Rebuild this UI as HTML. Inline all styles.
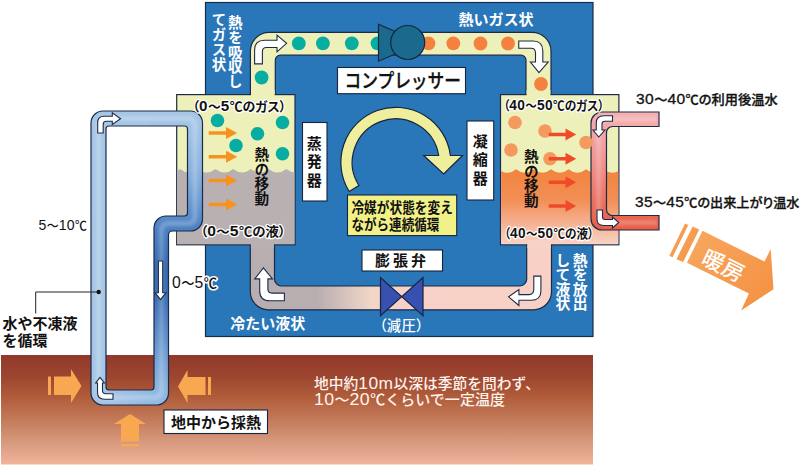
<!DOCTYPE html>
<html lang="ja">
<head>
<meta charset="utf-8">
<title>地中熱ヒートポンプの仕組み</title>
<style>
html,body{margin:0;padding:0;background:#fff;}
body{width:800px;height:465px;overflow:hidden;position:relative;font-family:"Liberation Sans","Noto Sans CJK JP",sans-serif;}
svg{position:absolute;left:0;top:0;display:block;}
text{font-family:"Liberation Sans","Noto Sans CJK JP",sans-serif;}
.w{fill:#fff;}
.k{fill:#111;}
.b{font-weight:700;}
.halo{paint-order:stroke;stroke:#fff;stroke-width:2.5px;stroke-linejoin:round;}
.v{writing-mode:vertical-rl;text-orientation:upright;}
.d{font-size:1.18em;letter-spacing:0.4px;}
.p{font-feature-settings:"palt" 1;}
.sb{stroke:#111;stroke-width:0.3px;}
.sw{stroke:#fff;stroke-width:0.3px;}
</style>
</head>
<body>
<svg width="800" height="465" viewBox="0 0 800 465">
<defs>
  <linearGradient id="gGround" x1="0" y1="0" x2="0" y2="1">
    <stop offset="0" stop-color="#92392a"/>
    <stop offset="0.2" stop-color="#9c4630"/>
    <stop offset="0.38" stop-color="#b05c3a"/>
    <stop offset="0.6" stop-color="#c47c5c"/>
    <stop offset="0.8" stop-color="#d89a7e"/>
    <stop offset="1" stop-color="#f0b49c"/>
  </linearGradient>
  <linearGradient id="gBot" gradientUnits="userSpaceOnUse" x1="251" y1="0" x2="552" y2="0">
    <stop offset="0" stop-color="#b8aeb0"/>
    <stop offset="0.22" stop-color="#b8aeb0"/>
    <stop offset="0.40" stop-color="#f2d6c8"/>
    <stop offset="0.5" stop-color="#f8d2c8"/>
    <stop offset="1" stop-color="#f8d0c6"/>
  </linearGradient>
  <linearGradient id="gCond" gradientUnits="userSpaceOnUse" x1="0" y1="168" x2="0" y2="245">
    <stop offset="0" stop-color="#f2833c"/>
    <stop offset="0.42" stop-color="#f28f56"/>
    <stop offset="0.72" stop-color="#f5b292"/>
    <stop offset="1" stop-color="#f8d4c8"/>
  </linearGradient>
  <linearGradient id="gBlueR" gradientUnits="userSpaceOnUse" x1="0" y1="111" x2="0" y2="405">
    <stop offset="0" stop-color="#a6c6e6"/>
    <stop offset="0.065" stop-color="#a0c2e5"/>
    <stop offset="0.2" stop-color="#8ab2de"/>
    <stop offset="0.3" stop-color="#6c9cd2"/>
    <stop offset="0.4" stop-color="#4c80c2"/>
    <stop offset="0.54" stop-color="#3568ae"/>
    <stop offset="0.64" stop-color="#3c70b4"/>
    <stop offset="0.745" stop-color="#5888c6"/>
    <stop offset="0.85" stop-color="#76a2d5"/>
    <stop offset="0.95" stop-color="#8eb6df"/>
    <stop offset="1" stop-color="#94bae2"/>
  </linearGradient>
  <linearGradient id="gBlueBot" gradientUnits="userSpaceOnUse" x1="106" y1="0" x2="150" y2="0">
    <stop offset="0" stop-color="#a6c6e6"/>
    <stop offset="1" stop-color="#92b9e1"/>
  </linearGradient>
  <linearGradient id="gPink" gradientUnits="userSpaceOnUse" x1="0" y1="112" x2="0" y2="230">
    <stop offset="0" stop-color="#f5b0b2"/>
    <stop offset="0.25" stop-color="#f2a0a0"/>
    <stop offset="0.5" stop-color="#ee8a84"/>
    <stop offset="0.75" stop-color="#ea7060"/>
    <stop offset="1" stop-color="#e85c42"/>
  </linearGradient>
  <linearGradient id="gHeat" x1="0" y1="0" x2="1" y2="1">
    <stop offset="0" stop-color="#f8a860"/>
    <stop offset="1" stop-color="#f39040"/>
  </linearGradient>
  <filter id="soft" x="-20%" y="-20%" width="140%" height="140%"><feGaussianBlur stdDeviation="1.6"/></filter>
</defs>

<!-- ground -->
<rect x="1" y="355" width="592" height="109.5" fill="url(#gGround)"/>

<!-- blue unit box -->
<rect x="205.5" y="2.5" width="387.5" height="334" fill="#2977b9" stroke="#1b2a48" stroke-width="1.2"/>

<!-- top refrigerant pipe -->
<path d="M250.4,96 L250.4,51.3 A19,19 0 0 1 269.4,32.3 L532,32.3 A19,19 0 0 1 551,51.3 L551,96 L526,96 L526,60.2 A5,5 0 0 0 521,55.2 L280.3,55.2 A5,5 0 0 0 275.3,60.2 L275.3,96 Z" fill="#eef0ba" stroke="#1b2a48" stroke-width="1.2"/>

<!-- bottom refrigerant pipe -->
<path d="M250.3,243 L250.3,291.8 A18,18 0 0 0 268.3,309.8 L533.5,309.8 A18,18 0 0 0 551.5,291.8 L551.5,243 L526.7,243 L526.7,279 A7,7 0 0 1 519.7,286 L281.5,286 A7,7 0 0 1 274.5,279 L274.5,243 Z" fill="url(#gBot)" stroke="#1b2a48" stroke-width="1.2"/>

<!-- evaporator box -->
<rect x="176.7" y="94.6" width="118.3" height="150.2" fill="#eef0ba" stroke="#1b2a48" stroke-width="1.2"/>
<clipPath id="evClip"><rect x="177.3" y="95.2" width="117.1" height="149"/></clipPath>
<path id="evLiq" clip-path="url(#evClip)" d="M162.4,168.9 Q171.2,176.0 180.1,168.9 Q188.9,176.0 197.8,168.9 Q206.7,176.0 215.5,168.9 Q224.4,176.0 233.2,168.9 Q242.1,176.0 250.9,168.9 Q259.8,176.0 268.6,168.9 Q277.5,176.0 286.3,168.9 Q295.2,176.0 304.0,168.9 L304.0,244.4 L162.4,244.4 Z" fill="#b9b0b1"/>
<rect x="251" y="90" width="23.7" height="8" fill="#eef0ba"/>
<rect x="250.9" y="240" width="23" height="8" fill="#b9b0b1"/>

<!-- condenser box -->
<rect x="500.5" y="94.6" width="118.4" height="150.2" fill="#eef0ba" stroke="#1b2a48" stroke-width="1.2"/>
<clipPath id="coClip"><rect x="501.1" y="95.2" width="117.2" height="149"/></clipPath>
<path id="coLiq" clip-path="url(#coClip)" d="M498.6,169.3 Q507.4,176.4 516.1,169.3 Q524.9,176.4 533.6,169.3 Q542.4,176.4 551.1,169.3 Q559.9,176.4 568.6,169.3 Q577.4,176.4 586.1,169.3 Q594.9,176.4 603.6,169.3 Q612.4,176.4 621.1,169.3 L621.1,244.4 L498.6,244.4 Z" fill="url(#gCond)"/>
<rect x="526.6" y="90" width="23.8" height="8" fill="#eef0ba"/>
<rect x="527.3" y="240" width="23.6" height="8" fill="#f8d2c6"/>

<!-- dots: teal -->
<g fill="#08ada2">
  <circle cx="298.8" cy="43.4" r="6.9"/>
  <circle cx="322.9" cy="43.4" r="6.9"/>
  <circle cx="351.8" cy="43.3" r="6.9"/>
  <circle cx="377.5" cy="43.3" r="6.9"/>
  <circle cx="261.6" cy="77.5" r="6.9"/>
  <circle cx="217.5" cy="120.5" r="6.8"/>
  <circle cx="282.5" cy="122.5" r="6.8"/>
  <circle cx="257.5" cy="133.7" r="6.8"/>
  <circle cx="236" cy="145.5" r="6.8"/>
  <circle cx="282.5" cy="153.7" r="6.8"/>
</g>
<!-- dots: orange -->
<g fill="#f5813f">
  <circle cx="428.5" cy="43.3" r="6.9"/>
  <circle cx="453.3" cy="43.3" r="6.9"/>
  <circle cx="480.5" cy="43.5" r="6.9"/>
  <circle cx="508" cy="43.5" r="6.9"/>
  <circle cx="541" cy="84" r="6.9"/>
</g>

<!-- compressor -->
<path d="M378.5,24.3 L407.5,36.8 L407.5,48.7 L378.5,61.2 Z" fill="#1a6a8e" stroke="#16243c" stroke-width="1.2" stroke-linejoin="miter"/>
<circle cx="407.7" cy="42.5" r="17" fill="#1a6a8e" stroke="#16243c" stroke-width="1.2"/>

<!-- expansion valve -->
<path d="M380.5,277.5 L380.5,315.7 L423,277.5 L423,315.7 Z" fill="#3850b0" stroke="#16243c" stroke-width="1.2" stroke-linejoin="miter"/>

<!-- blue ground loop pipe -->
<clipPath id="loopClip"><path clip-rule="evenodd" d="M91,123 A12,12 0 0 1 103,111 L190.5,111 A12,12 0 0 1 202.5,123 L202.5,219 A12,12 0 0 1 190.5,231 L172.5,231 A4,4 0 0 0 168.5,235 L168.5,393 A12,12 0 0 1 156.5,405 L103,405 A12,12 0 0 1 91,393 Z
M106,129 A3,3 0 0 1 109,126 L184.5,126 A3,3 0 0 1 187.5,129 L187.5,213 A3,3 0 0 1 184.5,216 L166,216 A12,12 0 0 0 154,228 L154,387 A3,3 0 0 1 151,390 L109,390 A3,3 0 0 1 106,387 Z"/></clipPath>
<g clip-path="url(#loopClip)">
  <rect x="90" y="110" width="114" height="296" fill="#a6c6e6"/>
  <rect x="106" y="389" width="50" height="17" fill="url(#gBlueBot)"/>
  <rect x="150" y="110" width="54" height="296" fill="url(#gBlueR)"/>
  <path d="M161.25,231 L161.25,390 Q161.25,397.5 153.75,397.5 L106,397.5 Q98.5,397.5 98.5,390 L98.5,126 Q98.5,118.5 106,118.5 L187.5,118.5 Q195,118.5 195,126 L195,216 Q195,223.5 187.5,223.5 L168.75,223.5 Q161.25,223.5 161.25,231 Z" fill="none" stroke="#fff" stroke-opacity="0.22" stroke-width="5" filter="url(#soft)"/>
</g>
<path id="loop" fill-rule="evenodd" d="M91,123 A12,12 0 0 1 103,111 L190.5,111 A12,12 0 0 1 202.5,123 L202.5,219 A12,12 0 0 1 190.5,231 L172.5,231 A4,4 0 0 0 168.5,235 L168.5,393 A12,12 0 0 1 156.5,405 L103,405 A12,12 0 0 1 91,393 Z
M106,129 A3,3 0 0 1 109,126 L184.5,126 A3,3 0 0 1 187.5,129 L187.5,213 A3,3 0 0 1 184.5,216 L166,216 A12,12 0 0 0 154,228 L154,387 A3,3 0 0 1 151,390 L109,390 A3,3 0 0 1 106,387 Z" fill="none" stroke="#1b2a48" stroke-width="1.2"/>

<!-- pink hot water pipe -->
<path d="M659,112 L602,112 A11,11 0 0 0 591,123 L591,219 A11,11 0 0 0 602,230 L659,230 L659,215.5 L612.5,215.5 A6,6 0 0 1 606.5,209.5 L606.5,132.5 A6,6 0 0 1 612.5,126.5 L659,126.5 Z" fill="url(#gPink)" stroke="#1b2a48" stroke-width="1.2"/>
<path d="M657,119.25 L606,119.25 Q598.75,119.25 598.75,126.5 L598.75,215.5 Q598.75,222.75 606,222.75 L657,222.75" fill="none" stroke="#fff" stroke-opacity="0.22" stroke-width="5" filter="url(#soft)"/>

<!-- condenser gas dots -->
<g fill="#f59a5e">
  <circle cx="515" cy="122.5" r="6.8"/>
  <circle cx="545" cy="131" r="6.8"/>
  <circle cx="586" cy="142.5" r="6.8"/>
  <circle cx="511" cy="150" r="6.8"/>
  <circle cx="550" cy="158.7" r="6.8"/>
</g>

<!-- red arrows -->
<g fill="#f04a28">
  <path d="M548.7,132.8 h16.8 v-4.3 l10.7,6 l-10.7,6 v-4.3 h-16.8 z"/>
  <path d="M548.7,157.0 h16.8 v-4.3 l10.7,6 l-10.7,6 v-4.3 h-16.8 z"/>
  <path d="M548.7,180.5 h16.8 v-4.3 l10.7,6 l-10.7,6 v-4.3 h-16.8 z"/>
  <path d="M548.7,204.3 h16.8 v-4.3 l10.7,6 l-10.7,6 v-4.3 h-16.8 z"/>
</g>
<!-- evaporator orange arrows -->
<g fill="#f8921e">
  <path d="M208.7,131.3 h17.3 v-4.3 l11.2,6 l-11.2,6 v-4.3 h-17.3 z"/>
  <path d="M208.7,155.0 h17.3 v-4.3 l11.2,6 l-11.2,6 v-4.3 h-17.3 z"/>
  <path d="M208.7,178.8 h17.3 v-4.3 l11.2,6 l-11.2,6 v-4.3 h-17.3 z"/>
  <path d="M208.7,202.8 h17.3 v-4.3 l11.2,6 l-11.2,6 v-4.3 h-17.3 z"/>
</g>

<!-- circular arrow -->
<path d="M349.2,191.5 A55,55 0 1 1 450.4,155.5 L462.5,155.5 L443.6,174 L423.7,155.5 L438.7,155.5 A43.5,43.5 0 1 0 358.9,185.5 Z" fill="#eeee9c" stroke="#16243c" stroke-width="1.2" stroke-linejoin="miter"/>

<!-- white flow arrows -->
<g fill="#fff" stroke="#1b2a48" stroke-width="1.1" stroke-linejoin="miter">
  <path d="M254.6,63.9 L254.6,50 Q254.6,40.3 264.5,40.3 L277,40.3 L277,35.1 L286.6,43.3 L277,51.8 L277,47.5 L266.5,47.5 Q262.4,47.5 262.4,51.5 L262.4,63.9 Z"/>
  <path d="M518.75,41 L533,41 Q542.8,41 542.8,51 L542.8,62 L548.2,62 L539,72.7 L530.4,62 L535.5,62 L535.5,53 Q535.5,48.3 531,48.3 L518.75,48.3 Z"/>
  <path d="M284.4,300.8 L270,300.8 Q259.7,300.8 259.7,291 L259.7,278.9 L254.7,278.9 L263.4,267.9 L272.5,278.9 L267.9,278.9 L267.9,289 Q267.9,293.1 272,293.1 L284.4,293.1 Z"/>
  <path d="M533.8,276.1 L533.8,289 Q533.8,294.6 529,294.6 L518.9,294.6 L518.9,289.5 L508.6,296.8 L518.9,305.5 L518.9,300.3 L531,300.3 Q540.9,300.3 540.9,291 L540.9,276.1 Z"/>
  <path d="M97.7,133 L97.7,122.5 Q97.7,116.2 104,116.2 L112.3,116.2 L112.3,112.9 L120.6,118.7 L112.3,124.5 L112.3,121.3 L106.2,121.3 Q103.2,121.3 103.2,124.3 L103.2,133 Z"/>
  <path d="M158.4,261 L162.7,261 L162.7,292.7 L166,292.7 L160.5,299.6 L155,292.7 L158.4,292.7 Z"/>
  <path d="M113,399.2 L104.5,399.2 Q97.5,399.2 97.5,392.5 L97.5,383 L95.7,383 L100,377.5 L104.5,383 L102.5,383 L102.5,390.5 Q102.5,393.7 106,393.7 L113,393.7 Z"/>
  <path d="M612.5,115.75 L604,115.75 Q596.25,115.75 596.25,123 L596.25,130 L593,130 L598.75,137 L605,130 L602,130 L602,124 Q602,121.25 605,121.25 L612.5,121.25 Z"/>
  <path d="M597,210 L597,219 Q597,225.5 603.5,225.5 L612.5,225.5 L612.5,228 L618.75,222.5 L612.5,217 L612.5,219.5 L605,219.5 Q602.5,219.5 602.5,217 L602.5,210 Z"/>
</g>

<!-- ground heat arrows -->
<g fill="#f8a850">
  <rect x="48" y="376.5" width="3" height="18.5"/>
  <path d="M54,376.5 L71,376.5 L71,369 L81.5,386 L71,403 L71,395 L54,395 Z"/>
  <rect x="208" y="377" width="3" height="18"/>
  <path d="M205.5,377 L187.5,377 L187.5,370 L178,386.5 L187.5,403 L187.5,395 L205.5,395 Z"/>
  <rect x="121" y="444" width="18" height="2.5"/>
  <path d="M121,441.5 L121,424 L114,424 L130,414 L146,424 L139,424 L139,441.5 Z"/>
</g>

<!-- heating arrow -->
<g fill="url(#gHeat)">
  <path d="M685,223.5 L688.3,224.9 L672.5,257.3 L669.4,255.7 Z"/>
  <path d="M692.6,226.6 L699.2,229.4 L683.1,262 L676.5,259.2 Z"/>
  <path d="M702.5,230.8 L764.5,261.6 L770.7,249 L773.5,289.3 L741.1,310.5 L748.9,293.5 L686.9,262.8 Z"/>
</g>

<!-- leader line -->
<path d="M98.7,292 L35.7,292 L35.7,313.5" fill="none" stroke="#222" stroke-width="1"/>
<circle cx="98.7" cy="292" r="2.2" fill="#111"/>

<!-- label boxes -->
<g fill="#fff" stroke="#16243c" stroke-width="1.1">
  <rect x="337.5" y="67.5" width="128" height="26.2"/>
  <rect x="302.5" y="122.5" width="24.5" height="78.5"/>
  <rect x="467" y="121" width="26.7" height="79"/>
  <rect x="362" y="250" width="80.5" height="21"/>
  <rect x="164" y="410" width="103.5" height="23.5"/>
</g>
<rect x="347.5" y="195" width="109.2" height="40.6" fill="#f1f188" stroke="#16243c" stroke-width="1.1"/>

<!-- ===== text ===== -->
<g class="w" font-size="14.5" font-weight="700">
  <text id="t1" class="v" x="233.8" y="15.3" letter-spacing="0.25">熱を吸収し</text>
  <text id="t2" class="v" x="217.5" y="12.6" letter-spacing="0.25">てガス状</text>
  <text id="t14a" class="v" x="578.6" y="252.6" font-size="14.8" letter-spacing="-0.2">熱を放出</text>
  <text id="t14b" class="v" x="561.5" y="252.6" font-size="14.8" letter-spacing="-0.2">して液状</text>
</g>
<text id="t3" class="w" x="458.5" y="24.5" font-size="15" font-weight="700">熱いガス状</text>
<text id="t13" class="w" x="230.3" y="328.7" font-size="15" font-weight="700">冷たい液状</text>
<text id="t12" class="w p" x="379.3" y="331.3" font-size="14.3" font-weight="500" textLength="44" lengthAdjust="spacing">（減圧）</text>

<text id="t4" textLength="116.5" lengthAdjust="spacingAndGlyphs" class="k sb" x="344.5" y="88" font-size="19.6" font-weight="500">コンプレッサー</text>
<text id="t11" class="k b" x="375" y="266" font-size="15" letter-spacing="3">膨張弁</text>
<text id="t10a" textLength="101.5" lengthAdjust="spacingAndGlyphs" class="k b" x="351.4" y="212.5" font-size="14.4">冷媒が状態を変え</text>
<text id="t10b" textLength="88" lengthAdjust="spacingAndGlyphs" class="k b" x="351.4" y="229.8" font-size="14.4">ながら連続循環</text>
<text id="t24" class="k b" x="171" y="427.5" font-size="15">地中から採熱</text>

<g class="k b" font-size="15" letter-spacing="3.4">
  <text id="t8" class="v" x="313.2" y="135.6">蒸発器</text>
  <text id="t9" class="v" x="479.2" y="133.6">凝縮器</text>
</g>
<g class="k b" font-size="14.6" letter-spacing="0">
  <text id="t7" class="v" x="260.4" y="147.2">熱の移動</text>
  <text id="t17" class="v" x="529.8" y="149.2">熱の移動</text>
</g>

<g class="k halo p" font-size="13" font-weight="700">
  <text id="t5" x="192.6" y="110.7" textLength="93.5" lengthAdjust="spacingAndGlyphs">（<tspan class="d">0</tspan>～<tspan class="d">5</tspan>℃のガス）</text>
  <text id="t6" x="200.5" y="236" textLength="85" lengthAdjust="spacingAndGlyphs">（<tspan class="d">0</tspan>～<tspan class="d">5</tspan>℃の液）</text>
  <text id="t15" x="503.5" y="110" textLength="100.5" lengthAdjust="spacingAndGlyphs">（<tspan class="d">40</tspan>～<tspan class="d">50</tspan>℃のガス）</text>
  <text id="t16" x="504.3" y="238" textLength="89.5" lengthAdjust="spacingAndGlyphs">（<tspan class="d">40</tspan>～<tspan class="d">50</tspan>℃の液）</text>
</g>
<text id="t22" class="k halo p" x="172" y="287.5" font-size="13.8" font-weight="500" textLength="45" lengthAdjust="spacingAndGlyphs" style="stroke-width:3.2px"><tspan class="d">0</tspan>～<tspan class="d">5</tspan>℃</text>
<text id="t21" textLength="48.5" lengthAdjust="spacingAndGlyphs" class="k p" x="38.5" y="229.5" font-size="13" font-weight="500"><tspan class="d">5</tspan>～<tspan class="d">10</tspan>℃</text>
<text id="t18" textLength="141.7" lengthAdjust="spacingAndGlyphs" class="k p sb" x="636" y="103.7" font-size="12.8" font-weight="500"><tspan class="d">30</tspan>～<tspan class="d">40</tspan>℃の利用後温水</text>
<text id="t19" textLength="164.5" lengthAdjust="spacingAndGlyphs" class="k p sb" x="635" y="207.3" font-size="12.8" font-weight="500"><tspan class="d">35</tspan>～<tspan class="d">45</tspan>℃の出来上がり温水</text>

<text id="t23a" class="k" x="2.5" y="328.7" font-size="15" font-weight="700">水や不凍液</text>
<text id="t23b" class="k" x="2.5" y="345.5" font-size="15" font-weight="700">を循環</text>

<g fill="#fff3ee" font-size="14.3" font-weight="500">
  <text id="t25a" textLength="226" lengthAdjust="spacingAndGlyphs" x="314" y="389">地中約<tspan class="d">10m</tspan>以深は季節を問わず、</text>
  <text id="t25b" textLength="191" lengthAdjust="spacingAndGlyphs" x="314" y="405"><tspan class="d">10</tspan>～<tspan class="d">20</tspan>℃くらいで一定温度</text>
</g>

<text id="t20" class="w" font-size="22" font-weight="500" text-anchor="middle" transform="translate(723.3,265.6) rotate(26.4)" x="0" y="8">暖房</text>

</svg>
</body>
</html>
